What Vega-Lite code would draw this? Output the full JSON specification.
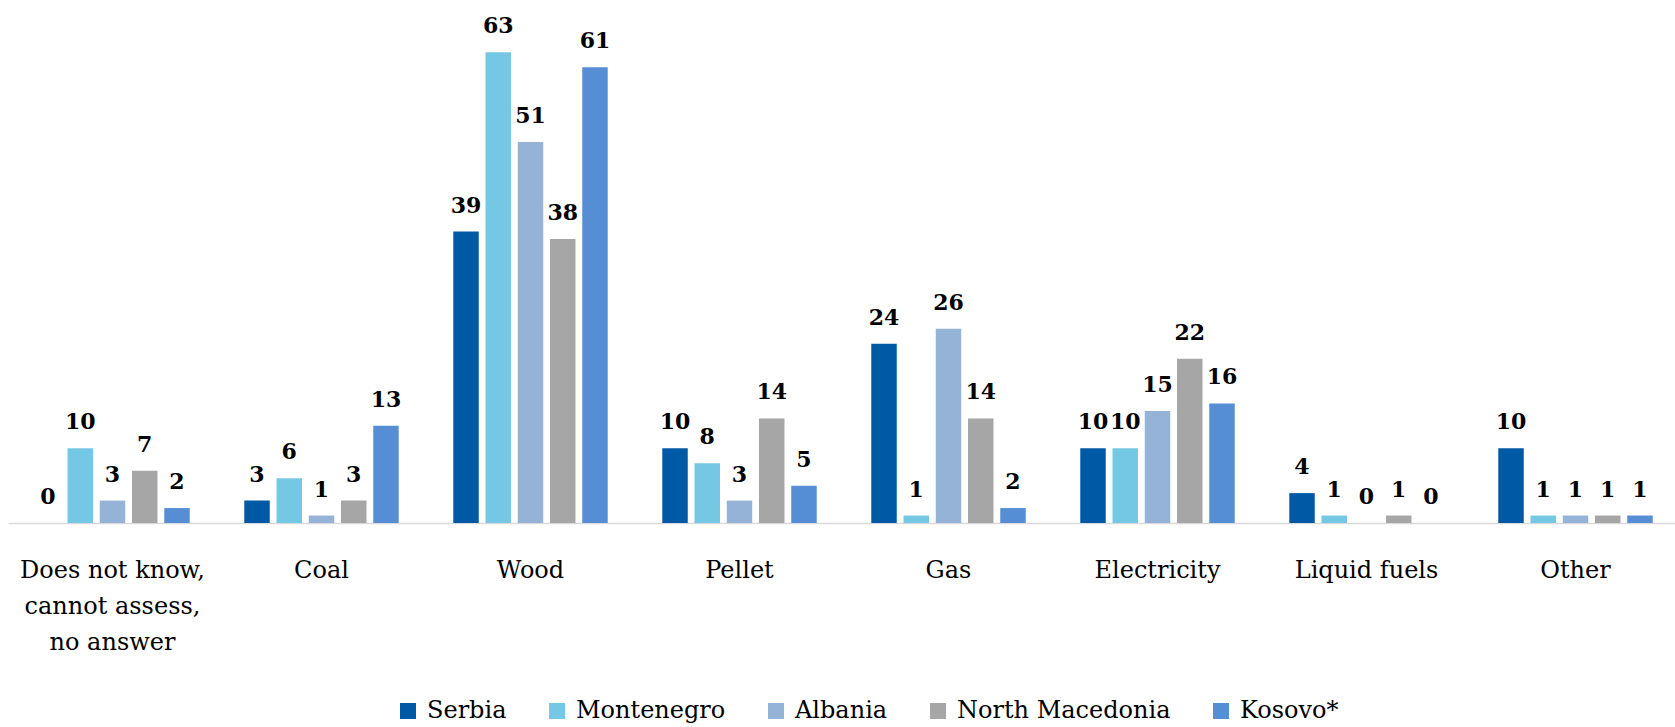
{
  "$schema": "https://vega.github.io/schema/vega-lite/v6.json",
  "width": 1672,
  "height": 523,
  "autosize": {"type": "none"},
  "padding": {"left": 8, "top": 0, "right": 0, "bottom": 204},
  "background": "white",
  "config": {"view": {"stroke": null}},
  "data": {"values": [
    {"category": "Does not know, cannot assess, no answer", "country": "Serbia", "value": 0},
    {"category": "Does not know, cannot assess, no answer", "country": "Montenegro", "value": 10},
    {"category": "Does not know, cannot assess, no answer", "country": "Albania", "value": 3},
    {"category": "Does not know, cannot assess, no answer", "country": "North Macedonia", "value": 7},
    {"category": "Does not know, cannot assess, no answer", "country": "Kosovo*", "value": 2},
    {"category": "Coal", "country": "Serbia", "value": 3},
    {"category": "Coal", "country": "Montenegro", "value": 6},
    {"category": "Coal", "country": "Albania", "value": 1},
    {"category": "Coal", "country": "North Macedonia", "value": 3},
    {"category": "Coal", "country": "Kosovo*", "value": 13},
    {"category": "Wood", "country": "Serbia", "value": 39},
    {"category": "Wood", "country": "Montenegro", "value": 63},
    {"category": "Wood", "country": "Albania", "value": 51},
    {"category": "Wood", "country": "North Macedonia", "value": 38},
    {"category": "Wood", "country": "Kosovo*", "value": 61},
    {"category": "Pellet", "country": "Serbia", "value": 10},
    {"category": "Pellet", "country": "Montenegro", "value": 8},
    {"category": "Pellet", "country": "Albania", "value": 3},
    {"category": "Pellet", "country": "North Macedonia", "value": 14},
    {"category": "Pellet", "country": "Kosovo*", "value": 5},
    {"category": "Gas", "country": "Serbia", "value": 24},
    {"category": "Gas", "country": "Montenegro", "value": 1},
    {"category": "Gas", "country": "Albania", "value": 26},
    {"category": "Gas", "country": "North Macedonia", "value": 14},
    {"category": "Gas", "country": "Kosovo*", "value": 2},
    {"category": "Electricity", "country": "Serbia", "value": 10},
    {"category": "Electricity", "country": "Montenegro", "value": 10},
    {"category": "Electricity", "country": "Albania", "value": 15},
    {"category": "Electricity", "country": "North Macedonia", "value": 22},
    {"category": "Electricity", "country": "Kosovo*", "value": 16},
    {"category": "Liquid fuels", "country": "Serbia", "value": 4},
    {"category": "Liquid fuels", "country": "Montenegro", "value": 1},
    {"category": "Liquid fuels", "country": "Albania", "value": 0},
    {"category": "Liquid fuels", "country": "North Macedonia", "value": 1},
    {"category": "Liquid fuels", "country": "Kosovo*", "value": 0},
    {"category": "Other", "country": "Serbia", "value": 10},
    {"category": "Other", "country": "Montenegro", "value": 1},
    {"category": "Other", "country": "Albania", "value": 1},
    {"category": "Other", "country": "North Macedonia", "value": 1},
    {"category": "Other", "country": "Kosovo*", "value": 1}
  ]},
  "encoding": {
    "x": {
      "field": "category", "type": "nominal",
      "sort": ["Does not know, cannot assess, no answer", "Coal", "Wood", "Pellet", "Gas", "Electricity", "Liquid fuels", "Other"],
      "scale": {"paddingInner": 0.261, "paddingOuter": 0.1305},
      "axis": {
        "title": null, "labelAngle": 0, "ticks": false, "tickSize": 0,
        "labelFont": "DejaVu Serif", "labelFontSize": 24, "labelColor": "#000000",
        "labelPadding": 35, "labelBaseline": "top", "labelLineHeight": 36, "labelLimit": 0,
        "domainColor": "#d9d9d9", "domainWidth": 1.5,
        "labelExpr": "datum.label == 'Does not know, cannot assess, no answer' ? ['Does not know,', 'cannot assess,', 'no answer'] : datum.label"
      }
    },
    "xOffset": {
      "field": "country", "type": "nominal",
      "sort": ["Serbia", "Montenegro", "Albania", "North Macedonia", "Kosovo*"],
      "scale": {"paddingInner": 0.21, "paddingOuter": 0}
    },
    "y": {
      "field": "value", "type": "quantitative",
      "scale": {"domain": [0, 70], "nice": false},
      "axis": null
    }
  },
  "layer": [
    {
      "mark": {"type": "bar"},
      "encoding": {
        "color": {
          "field": "country", "type": "nominal",
          "scale": {
            "domain": ["Serbia", "Montenegro", "Albania", "North Macedonia", "Kosovo*"],
            "range": ["#0059A5", "#74C8E4", "#95B3D7", "#A6A6A6", "#558ED5"]
          },
          "legend": {
            "title": null, "orient": "none", "legendX": 388, "legendY": 699, "direction": "horizontal",
            "symbolType": "square", "symbolSize": 256, "symbolStrokeWidth": 0,
            "labelFont": "DejaVu Serif", "labelFontSize": 24, "labelColor": "#000000", "labelLimit": 0,
            "columnPadding": 38, "labelOffset": 7, "padding": 0
          }
        }
      }
    },
    {
      "mark": {"type": "text", "baseline": "alphabetic", "dy": -19, "font": "DejaVu Serif", "fontWeight": "bold", "fontSize": 22, "color": "#000000"},
      "encoding": {"text": {"field": "value", "type": "quantitative"}}
    }
  ]
}
